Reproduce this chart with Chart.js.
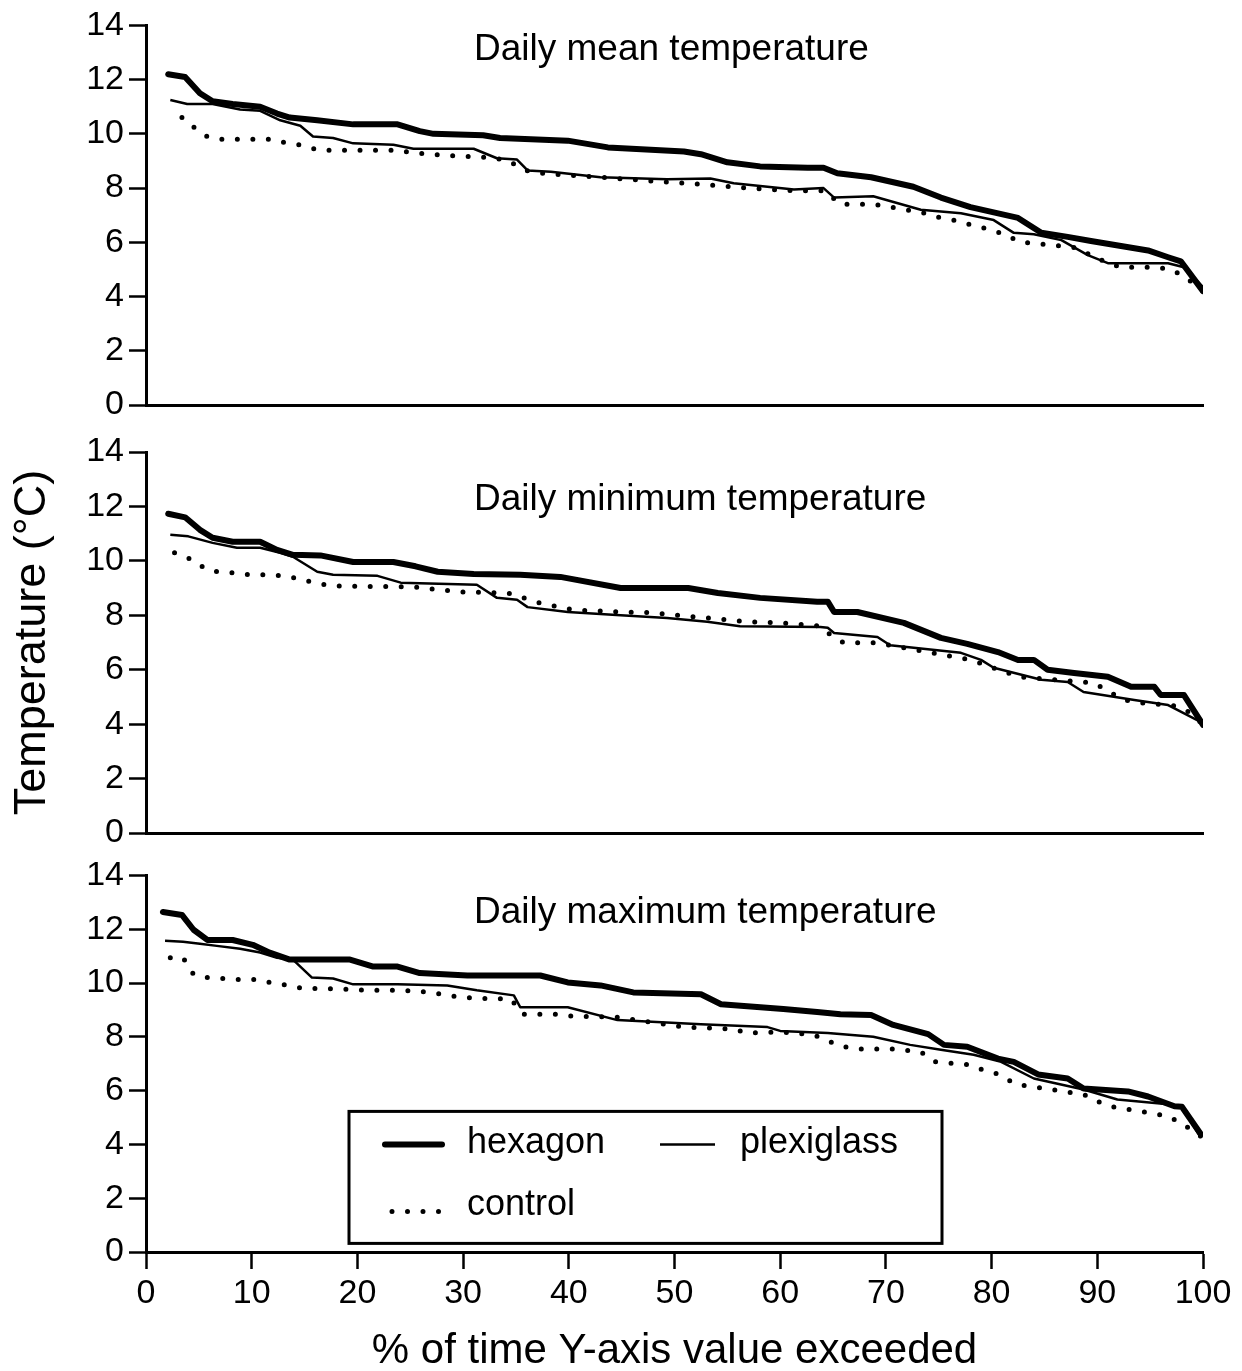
<!DOCTYPE html>
<html>
<head>
<meta charset="utf-8">
<title>Temperature exceedance curves</title>
<script src="https://cdn.jsdelivr.net/npm/chart.js@4.4.1/dist/chart.umd.min.js"></script>
<style>
  html, body { margin: 0; padding: 0; background: #fff; overflow: hidden; }
  #wrap { position: relative; width: 1242px; height: 1371px; }
  .panel { position: absolute; left: 0; width: 1242px; }
</style>
</head>
<body>
<div id="wrap">
  <div class="panel" style="top:0;height:433px"><canvas id="mean-chart"></canvas></div>
  <div class="panel" style="top:420px;height:441px"><canvas id="min-chart"></canvas></div>
  <div class="panel" style="top:850px;height:521px"><canvas id="max-chart"></canvas></div>
</div>
<script>
const FONT = '"Liberation Sans", Arial, Helvetica, sans-serif';
const BLACK = '#000000';

const seriesNames = ['hexagon', 'plexiglass', 'control'];
const xTicks = [0, 10, 20, 30, 40, 50, 60, 70, 80, 90, 100];
const yTicks = [0, 2, 4, 6, 8, 10, 12, 14];

// [% of time exceeded, temperature °C]
const meanHexagon = [[2.1,12.2],[3.7,12.1],[5.1,11.5],[6.3,11.2],[8.2,11.1],[10.8,11.0],[12.4,10.75],[13.6,10.6],[16.2,10.5],[19.6,10.35],[23.8,10.35],[25.9,10.1],[27.2,10.0],[31.9,9.95],[33.5,9.85],[39.9,9.75],[43.7,9.5],[50.9,9.35],[52.5,9.25],[55.0,8.95],[58.1,8.8],[62.6,8.75],[64.1,8.75],[65.4,8.55],[68.6,8.4],[72.6,8.05],[75.2,7.65],[78.0,7.3],[82.5,6.9],[84.7,6.35],[87.2,6.2],[89.4,6.05],[94.8,5.7],[96.7,5.45],[97.9,5.3],[100,4.2]];
const meanPlexiglass = [[2.3,11.25],[3.9,11.1],[6.3,11.1],[8.9,10.9],[10.8,10.85],[12.7,10.5],[14.6,10.3],[15.8,9.9],[17.7,9.85],[19.6,9.65],[23.4,9.6],[25.3,9.45],[31.0,9.45],[33.2,9.1],[35.1,9.05],[36.1,8.65],[38.3,8.6],[43.0,8.4],[49.3,8.33],[53.4,8.35],[55.6,8.18],[61.3,7.95],[64.1,8.0],[65.1,7.65],[68.8,7.7],[73.3,7.2],[77.1,7.07],[80.2,6.82],[82.1,6.35],[84.0,6.3],[86.6,6.08],[89.1,5.53],[91.0,5.23],[96.7,5.23],[98.2,5.08],[100,4.35]];
const meanControl = [[3.4,10.6],[4.5,10.25],[5.8,9.9],[7.2,9.8],[11.8,9.8],[13.3,9.66],[14.8,9.58],[16.3,9.4],[23.8,9.4],[25.3,9.3],[28.5,9.2],[31.6,9.15],[34.0,9.05],[36.0,8.65],[37.3,8.55],[43.0,8.4],[49.3,8.22],[52.5,8.14],[56.9,8.0],[61.3,7.9],[64.2,7.9],[65.7,7.4],[68.8,7.4],[70.4,7.3],[73.3,7.11],[74.9,6.93],[76.4,6.82],[79.3,6.52],[80.9,6.34],[82.8,6.0],[84.0,5.97],[88.0,5.8],[90.0,5.4],[92.2,5.08],[95.4,5.08],[97.0,5.0],[98.4,4.7],[100,4.2]];

const minHexagon = [[2.1,11.73],[3.7,11.6],[5.1,11.14],[6.3,10.85],[8.2,10.7],[10.8,10.7],[12.4,10.4],[13.9,10.22],[16.5,10.2],[19.6,9.96],[23.4,9.96],[25.5,9.8],[27.6,9.6],[31.0,9.52],[35.4,9.49],[39.2,9.41],[44.9,9.0],[51.3,9.0],[54.1,8.82],[58.1,8.64],[63.5,8.5],[64.5,8.5],[65.1,8.12],[67.3,8.12],[71.7,7.72],[75.2,7.17],[77.7,6.95],[80.6,6.65],[82.5,6.36],[84.0,6.36],[85.3,6.0],[87.8,5.88],[91.0,5.74],[93.2,5.37],[95.4,5.37],[96.0,5.07],[98.2,5.07],[100,3.97]];
const minPlexiglass = [[2.3,10.96],[4.0,10.9],[6.3,10.66],[8.6,10.48],[10.8,10.48],[12.7,10.3],[13.9,10.15],[16.2,9.6],[17.7,9.49],[21.9,9.45],[24.1,9.2],[31.3,9.12],[33.2,8.64],[35.1,8.57],[36.1,8.3],[39.9,8.12],[44.9,8.0],[49.3,7.9],[53.1,7.76],[56.2,7.6],[63.8,7.57],[64.5,7.54],[65.1,7.35],[69.2,7.2],[70.4,6.9],[77.1,6.62],[79.0,6.36],[80.2,6.07],[84.7,5.63],[87.2,5.55],[88.7,5.18],[93.5,4.89],[96.7,4.7],[100,4.04]];
const minControl = [[2.7,10.3],[4.2,10.07],[5.8,9.67],[6.8,9.6],[8.4,9.55],[9.8,9.49],[11.1,9.49],[13.0,9.45],[14.6,9.34],[16.0,9.19],[17.6,9.08],[25.3,9.04],[29.7,8.86],[34.2,8.82],[37.3,8.45],[40.4,8.2],[44.9,8.12],[47.7,8.1],[56.9,7.76],[60.0,7.72],[63.8,7.6],[64.5,7.35],[66.0,6.99],[68.8,6.99],[70.4,6.9],[78.0,6.36],[82.6,5.74],[89.7,5.51],[92.5,4.89],[94.1,4.78],[97.0,4.7],[98.4,4.52],[100,4.0]];

const maxHexagon = [[1.6,12.64],[3.4,12.53],[4.5,11.98],[5.8,11.6],[8.2,11.6],[10.1,11.42],[11.7,11.13],[13.6,10.87],[19.3,10.87],[21.5,10.61],[23.8,10.61],[25.9,10.37],[30.4,10.28],[37.3,10.28],[39.9,10.02],[43.0,9.91],[46.1,9.65],[52.5,9.58],[54.4,9.21],[60.3,9.03],[63.5,8.92],[65.7,8.84],[68.6,8.81],[70.7,8.44],[74.0,8.1],[75.5,7.7],[77.7,7.63],[80.6,7.19],[82.1,7.07],[84.4,6.6],[87.2,6.45],[88.7,6.08],[92.9,5.97],[94.8,5.78],[97.3,5.42],[98.0,5.4],[99.8,4.38]];
const maxPlexiglass = [[1.8,11.57],[3.5,11.53],[5.1,11.46],[6.7,11.38],[8.9,11.27],[10.8,11.13],[12.4,10.94],[13.9,10.87],[15.7,10.2],[17.7,10.17],[19.6,9.95],[23.8,9.95],[28.5,9.91],[31.3,9.73],[34.8,9.54],[35.4,9.1],[39.9,9.1],[44.6,8.62],[52.5,8.47],[58.8,8.36],[60.0,8.22],[64.5,8.14],[68.8,8.0],[72.3,7.7],[75.2,7.52],[78.3,7.33],[80.9,7.07],[84.0,6.45],[88.7,6.04],[91.9,5.67],[96.7,5.49],[98.0,5.4],[99.8,4.24]];
const maxControl = [[2.3,10.94],[3.5,10.94],[4.5,10.32],[5.9,10.2],[8.7,10.13],[10.3,10.13],[11.8,10.02],[13.4,9.91],[14.9,9.8],[17.9,9.78],[20.9,9.73],[24.0,9.73],[27.1,9.65],[28.5,9.54],[30.0,9.47],[31.6,9.43],[34.5,9.4],[35.7,8.84],[38.7,8.84],[40.3,8.77],[44.6,8.73],[50.9,8.36],[55.6,8.29],[56.9,8.14],[60.0,8.18],[63.2,8.07],[65.7,7.66],[67.3,7.55],[70.4,7.55],[73.3,7.44],[74.7,7.07],[77.7,6.97],[79.1,6.78],[80.7,6.6],[82.3,6.23],[85.6,6.04],[88.7,5.86],[90.6,5.49],[92.1,5.34],[93.5,5.27],[95.1,5.16],[96.7,5.05],[98.1,4.75],[99.8,4.3]];

// line look for each series, in the order of seriesNames
const lineStyles = [
  { borderWidth: 6, borderDash: [], borderCapStyle: 'round' },
  { borderWidth: 2.5, borderDash: [], borderCapStyle: 'butt' },
  { borderWidth: 5, borderDash: [0, 15.5], borderCapStyle: 'round' }
];

Chart.defaults.font.family = FONT;
Chart.defaults.color = BLACK;

function toPoints(pairs) {
  return pairs.map(p => ({ x: p[0], y: p[1] }));
}

function buildDatasets(series) {
  return series.map((pairs, i) => ({
    label: seriesNames[i],
    data: toPoints(pairs),
    borderColor: BLACK,
    borderWidth: lineStyles[i].borderWidth,
    borderDash: lineStyles[i].borderDash,
    borderCapStyle: lineStyles[i].borderCapStyle,
    borderJoinStyle: 'round',
    pointRadius: 0,
    tension: 0,
    fill: false
  }));
}

// title written inside the plot area, left-aligned
const panelTitle = {
  id: 'panelTitle',
  afterDraw(chart, args, opts) {
    const { ctx, chartArea } = chart;
    ctx.save();
    ctx.font = '37px ' + FONT;
    ctx.fillStyle = BLACK;
    ctx.textAlign = 'left';
    ctx.textBaseline = 'alphabetic';
    ctx.fillText(opts.text, chartArea.left + opts.dx, chartArea.top + opts.dy);
    ctx.restore();
  }
};

// boxed key for the three lines
const boxLegend = {
  id: 'boxLegend',
  afterDatasetsDraw(chart, args, opts) {
    if (!opts.show) return;
    const { ctx, chartArea } = chart;
    const left = chartArea.left + 203;
    const top = chartArea.top + 236;
    const w = 593, h = 132;
    const sets = chart.data.datasets;
    ctx.save();
    ctx.fillStyle = '#fff';
    ctx.fillRect(left, top, w, h);
    ctx.strokeStyle = BLACK;
    ctx.lineWidth = 3;
    ctx.strokeRect(left, top, w, h);

    const items = [
      { ds: sets[0], x1: left + 36, x2: left + 93, y: top + 33, tx: left + 118, ty: top + 42 },
      { ds: sets[1], x1: left + 311, x2: left + 366, y: top + 33, tx: left + 391, ty: top + 42 },
      { ds: sets[2], x1: left + 43, x2: left + 92, y: top + 100, tx: left + 118, ty: top + 104 }
    ];
    ctx.font = '36px ' + FONT;
    ctx.textBaseline = 'alphabetic';
    ctx.fillStyle = BLACK;
    items.forEach(it => {
      ctx.beginPath();
      ctx.lineWidth = it.ds.borderWidth;
      ctx.lineCap = it.ds.borderCapStyle;
      ctx.setLineDash(it.ds.borderDash);
      ctx.moveTo(it.x1, it.y);
      ctx.lineTo(it.x2, it.y);
      ctx.stroke();
      ctx.setLineDash([]);
      ctx.fillText(it.ds.label, it.tx, it.ty);
    });
    ctx.restore();
  }
};

function makePanel(id, title, cfg) {
  const yWidth = 146;
  return new Chart(document.getElementById(id), {
    type: 'line',
    data: { datasets: buildDatasets(cfg.series) },
    plugins: [panelTitle, boxLegend],
    options: {
      responsive: true,
      maintainAspectRatio: false,
      animation: false,
      layout: { padding: { top: cfg.padTop, right: 39, bottom: 0, left: 0 } },
      plugins: {
        legend: { display: false },
        tooltip: { enabled: false },
        panelTitle: { text: title, dx: 328, dy: cfg.titleDy },
        boxLegend: { show: !!cfg.legend }
      },
      scales: {
        x: {
          type: 'linear',
          min: 0,
          max: 100,
          afterBuildTicks: s => { s.ticks = xTicks.map(v => ({ value: v })); },
          afterFit: s => { s.height = cfg.xHeight; },
          border: { display: true, color: BLACK, width: 3 },
          grid: {
            display: cfg.xTicks,
            drawOnChartArea: false,
            drawTicks: true,
            tickLength: 17,
            tickWidth: 2.5,
            tickColor: BLACK
          },
          ticks: {
            display: cfg.xTicks,
            maxRotation: 0,
            padding: 4,
            font: { size: 34 }
          },
          title: {
            display: cfg.xTicks,
            text: '% of time Y-axis value exceeded',
            font: { size: 42 },
            padding: { top: 0, bottom: -6 }
          }
        },
        y: {
          min: 0,
          max: 14,
          afterBuildTicks: s => { s.ticks = yTicks.map(v => ({ value: v })); },
          afterFit: s => { s.width = yWidth; },
          border: { display: true, color: BLACK, width: 3 },
          grid: {
            drawOnChartArea: false,
            drawTicks: true,
            tickLength: 17,
            tickWidth: 2.5,
            tickColor: BLACK
          },
          ticks: { padding: 5, font: { size: 34 } },
          title: {
            display: !!cfg.yTitle,
            text: 'Temperature (°C)',
            font: { size: 45 },
            padding: { top: 6, bottom: 0 }
          }
        }
      }
    }
  });
}

makePanel('mean-chart', 'Daily mean temperature', {
  series: [meanHexagon, meanPlexiglass, meanControl],
  padTop: 25, xHeight: 28, xTicks: false, titleDy: 35
});
makePanel('min-chart', 'Daily minimum temperature', {
  series: [minHexagon, minPlexiglass, minControl],
  padTop: 32, xHeight: 28, xTicks: false, titleDy: 58, yTitle: true
});
makePanel('max-chart', 'Daily maximum temperature', {
  series: [maxHexagon, maxPlexiglass, maxControl],
  padTop: 22, xHeight: 119, xTicks: true, titleDy: 48, legend: true
});
</script>
</body>
</html>
